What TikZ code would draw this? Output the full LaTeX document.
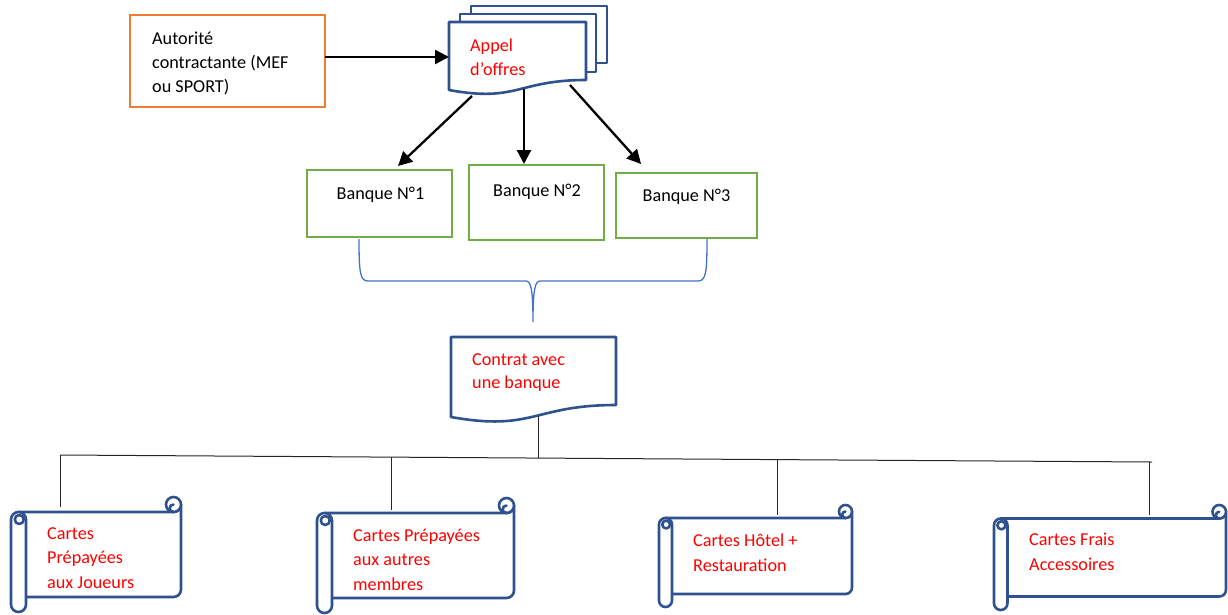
\documentclass[tikz,border=0pt]{standalone}
\usepackage{fontspec}
\setmainfont{Carlito}
\usetikzlibrary{arrows.meta,calc}
\definecolor{orng}{HTML}{ED7D31}
\definecolor{grn}{HTML}{70AD47}
\definecolor{dblue}{HTML}{2F528F}
\definecolor{lblue}{HTML}{4472C4}
\definecolor{redtxt}{HTML}{FF0000}
\tikzset{
  txt/.style={font=\fontsize{18.2}{24.2}\selectfont, inner sep=0pt, align=left, anchor=base west},
  redt/.style={txt, text=redtxt},
  obox/.style={draw=orng, line width=2.6pt, fill=white, inner sep=0pt},
  gbox/.style={draw=grn, line width=2.6pt, fill=white, inner sep=0pt},
  docshape/.style={draw=dblue, line width=2.6pt, fill=white, line join=round},
  scr/.style={draw=dblue, line width=2.6pt, fill=white, line join=round},
  scrline/.style={draw=dblue, line width=2.6pt, line cap=round},
  arr/.style={-{Triangle[length=14pt,width=14pt]}, line width=2.3pt, black},
  tree/.style={line width=1pt, black!85},
  bracestyle/.style={draw=lblue, line width=1.3pt}
}
\newcommand\myscroll[5]{%
  \pgfmathsetmacro\scL{#1}\pgfmathsetmacro\scT{#2}\pgfmathsetmacro\scR{#3}%
  \pgfmathsetmacro\scB{#4}\pgfmathsetmacro\scC{#5}\pgfmathsetmacro\scH{#5/2}%
  \pgfmathsetmacro\scK{0.552*#5/2}\pgfmathsetmacro\scS{0.3*#5}\pgfmathsetmacro\scQ{0.667*#5/2}%
  \draw[scr] (\scL+\scH,\scT+\scC) -- (\scR-\scH,\scT+\scC)
    .. controls (\scR-\scH+\scK,\scT+\scC) and (\scR,\scT+\scH+\scK) .. (\scR,\scT+\scH)
    -- (\scR,\scB-\scC-\scH)
    .. controls (\scR,\scB-\scC-\scH+\scK) and (\scR-\scH+\scK,\scB-\scC) .. (\scR-\scH,\scB-\scC)
    -- (\scL+\scH,\scB-\scC) -- cycle;
  \draw[scr] (\scR-\scH,\scT+\scH) circle[radius=\scH pt];
  \draw[scrline] (\scR-\scH,\scT+\scC) .. controls (\scR-\scH-\scQ,\scT+\scC) and (\scR-\scH-\scQ,\scT+\scH) .. (\scR-\scH,\scT+\scH);
  \draw[scr, rounded corners=\scH pt] (\scL,\scT+\scC) rectangle (\scL+\scC,\scB);
  \draw[scr] (\scL+0.55*\scC,\scT+1.5*\scC) circle[radius=\scS pt];
}
\begin{document}
\begin{tikzpicture}[x=1pt,y=-1pt]
\useasboundingbox[fill=white] (0,0) rectangle (1228,614);

% Autorite box
\node[obox, minimum width=195pt, minimum height=92pt] (auth) at (227.5,61) {};
\node[txt] (authT) at (152,92.5) {Autorité\\contractante (MEF\\ou SPORT)};

% Appel d'offres multi-document
\draw[docshape] (471,6) rectangle (607,63);
\draw[docshape] (460,14) rectangle (596,72);
\draw[docshape] (449,22) -- (586,22) -- (586,80) .. controls (517.5,80) and (517.5,102.6) .. (449,90) -- cycle;
\node[redt, font=\fontsize{18.2}{23.5}\selectfont] (appelT) at (470,75) {Appel\\d’offres};

\coordinate (authout) at (325,57);
\coordinate (appin) at (449,57);
\draw[arr] (authout) -- (appin);

% Banques
\node[gbox, minimum width=145pt, minimum height=67pt] (b1) at (379.5,203.5) {};
\node[gbox, minimum width=135pt, minimum height=75pt] (b2) at (536.5,202.5) {};
\node[gbox, minimum width=141pt, minimum height=65pt] (b3) at (686.5,205.5) {};
\node[txt, anchor=base] (b1T) at (380.5,199.3) {Banque N°1};
\node[txt, anchor=base] (b2T) at (537,196.7) {Banque N°2};
\node[txt, anchor=base] (b3T) at (686.5,201) {Banque N°3};

\coordinate (ap1) at (472,96);
\coordinate (ap2) at (524,89);
\coordinate (ap3) at (570,85);
\coordinate (bt1) at (398,166);
\coordinate (bt2) at (524,164);
\coordinate (bt3) at (641,164);
\draw[arr] (ap1) -- (bt1);
\draw[arr] (ap2) -- (bt2);
\draw[arr] (ap3) -- (bt3);

% Brace
\coordinate (brL) at (359,239);
\coordinate (brR) at (707,239);
\coordinate (brTip) at (533,322);
\draw[bracestyle] (brL) .. controls (359,272) and (360,281) .. (368,281) -- (526,281)
  .. controls (531,281) and (533,290) .. (brTip)
  .. controls (533,290) and (535,281) .. (540,281) -- (698,281)
  .. controls (706,281) and (707,272) .. (brR);

% Contrat document
\draw[docshape] (451,337) -- (616,337) -- (616,405) .. controls (533.5,405) and (533.5,431.8) .. (451,417) -- cycle;
\node[redt, font=\fontsize{18.2}{23.5}\selectfont] (contratT) at (472,388.5) {Contrat avec\\une banque};

% Tree
\coordinate (cbot) at (538,416);
\coordinate (hL) at (60,455);
\coordinate (hR) at (1152,462);
\coordinate (j0) at (538,458.1);
\coordinate (j1) at (391,457.1);
\coordinate (j2) at (777,459.6);
\coordinate (j3) at (1149,462);
\coordinate (s1top) at (60,507);
\coordinate (s2top) at (391,510);
\coordinate (s3top) at (777,515);
\coordinate (s4top) at (1149,515);
\draw[tree] (cbot) -- (j0);
\draw[tree] (hL) -- (hR);
\draw[tree] (hL) -- (s1top);
\draw[tree] (j1) -- (s2top);
\draw[tree] (j2) -- (s3top);
\draw[tree] (j3) -- (s4top);

% Scrolls
\myscroll{11}{497}{181}{612}{15}
\myscroll{317}{498}{514}{613}{15}
\myscroll{659}{505}{852}{607}{13}
\myscroll{994}{505}{1226}{610}{13.5}

\node[redt] (s1T) at (47,588) {Cartes\\Prépayées\\aux Joueurs};
\node[redt] (s2T) at (353,590) {Cartes Prépayées\\aux autres\\membres};
\node[redt] (s3T) at (693,571) {Cartes Hôtel +\\Restauration};
\node[redt] (s4T) at (1029,570) {Cartes Frais\\Accessoires};
\end{tikzpicture}
\end{document}
